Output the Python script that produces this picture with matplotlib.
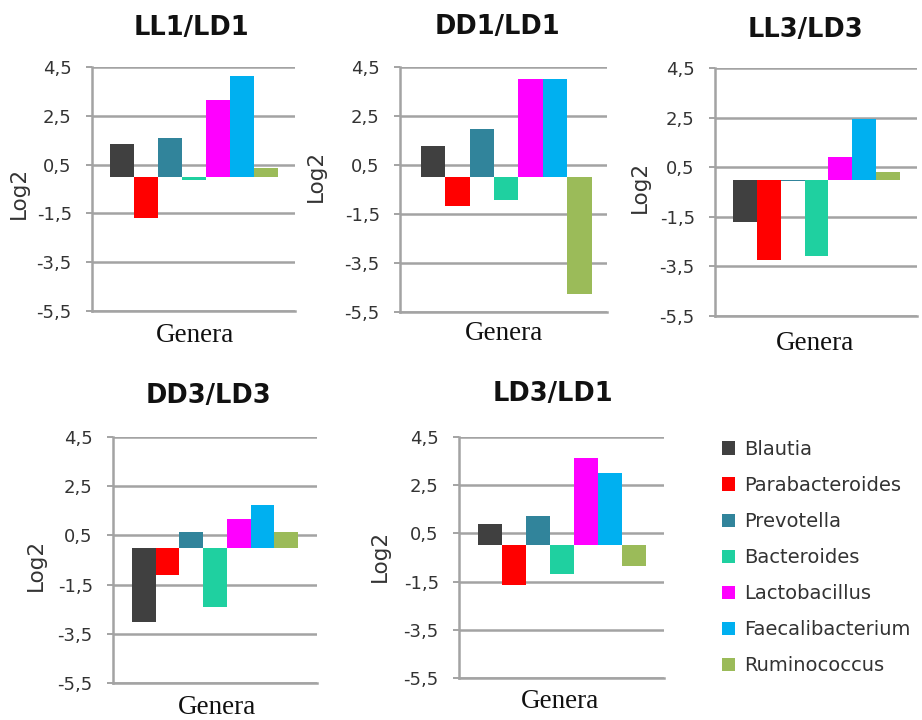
import matplotlib
matplotlib.use("Agg")
import matplotlib.pyplot as plt

# ---------------- data ----------------
genera = ["Blautia", "Parabacteroides", "Prevotella", "Bacteroides",
          "Lactobacillus", "Faecalibacterium", "Ruminococcus"]
colors = ["#404040", "#FF0000", "#31849B", "#1FD0A0",
          "#FF00FF", "#00B0F0", "#9BBB59"]

titles = ["LL1/LD1", "DD1/LD1", "LL3/LD3", "DD3/LD3", "LD3/LD1"]

ll1_ld1 = [1.36, -1.69, 1.59, -0.14, 3.13, 4.14, 0.35]
dd1_ld1 = [1.27, -1.16, 1.96, -0.94, 3.99, 3.99, -4.76]
ll3_ld3 = [-1.72, -3.23, -0.05, -3.08, 0.92, 2.45, 0.31]
dd3_ld3 = [-3.02, -1.13, 0.62, -2.42, 1.15, 1.75, 0.62]
ld3_ld1 = [0.90, -1.64, 1.22, -1.18, 3.64, 3.00, -0.87]

series = [ll1_ld1, dd1_ld1, ll3_ld3, dd3_ld3, ld3_ld1]

yticks = [-5.5, -3.5, -1.5, 0.5, 2.5, 4.5]
ytick_labels = ["-5,5", "-3,5", "-1,5", "0,5", "2,5", "4,5"]

# ---------------- layout (pixels) ----------------
W, H = 922, 720
# axes boxes: x0, x1, ytop, ybottom
boxes = [(92, 295, 67, 311), (400, 607, 67, 312), (715, 917, 68, 316),
         (113, 317, 437, 683), (459, 664, 437, 678)]
xlims = [(-1.25, 7.21), (-1.35, 7.13), (-1.25, 7.21), (-1.3, 7.3), (-1.29, 7.25)]
title_pos = [(191, 28), (497, 27), (805, 30), (208, 396), (553, 394)]
genera_pos = [(195, 336), (504, 333), (815, 343), (217, 708), (560, 701)]
log2_pos = [(19, 193), (316, 176), (640, 187), (36, 565), (380, 556)]

sans = ["DejaVu Sans"]
serif = ["Liberation Serif", "DejaVu Serif"]
grid_col = "#A3A3A3"

fig = plt.figure(figsize=(W / 100, H / 100), dpi=100)
fig.patch.set_facecolor("white")

def fx(x):
    return x / W

def fy(y):
    return 1 - y / H

last_ax = None
for i, vals in enumerate(series):
    x0, x1, yt, yb = boxes[i]
    ax = fig.add_axes([fx(x0), fy(yb), (x1 - x0) / W, (yb - yt) / H])
    xs = list(range(len(genera)))
    ax.bar(xs, vals, width=1.0, color=colors, label=genera, zorder=3)
    ax.set_ylim(-5.5, 4.5)
    ax.set_xlim(*xlims[i])
    ax.set_yticks(yticks)
    ax.set_yticklabels(ytick_labels, fontsize=13, family=sans, color="#333333")
    ax.set_xticks([])
    ax.tick_params(axis="y", length=4.5, width=1.4, color=grid_col, pad=10)
    for s in ["top", "right"]:
        ax.spines[s].set_visible(False)
    ax.spines["left"].set_color(grid_col)
    ax.spines["left"].set_linewidth(1.8)
    ax.spines["bottom"].set_color(grid_col)
    ax.spines["bottom"].set_linewidth(1.8)
    ax.yaxis.grid(True, color=grid_col, linewidth=1.8, zorder=0)
    ax.set_axisbelow(True)
    fig.text(fx(title_pos[i][0]), fy(title_pos[i][1]), titles[i],
             ha="center", va="center", fontsize=18.5, fontweight="bold",
             family=sans, color="#111111")
    fig.text(fx(genera_pos[i][0]), fy(genera_pos[i][1]), "Genera",
             ha="center", va="center", fontsize=19.5, family=serif, color="#111111")
    fig.text(fx(log2_pos[i][0]), fy(log2_pos[i][1]), "Log2",
             ha="center", va="center", fontsize=15.5, family=sans,
             rotation=90, color="#333333")
    last_ax = ax

handles, labels = last_ax.get_legend_handles_labels()
leg = fig.legend(handles, labels, loc="upper left",
                 bbox_to_anchor=(fx(714), fy(432)), frameon=False,
                 prop={"family": sans, "size": 14}, handlelength=0.68,
                 handleheight=0.68, handletextpad=0.45, labelspacing=0.88,
                 borderaxespad=0)
for t in leg.get_texts():
    t.set_color("#333333")

fig.savefig("out.png", dpi=100, facecolor="white")
